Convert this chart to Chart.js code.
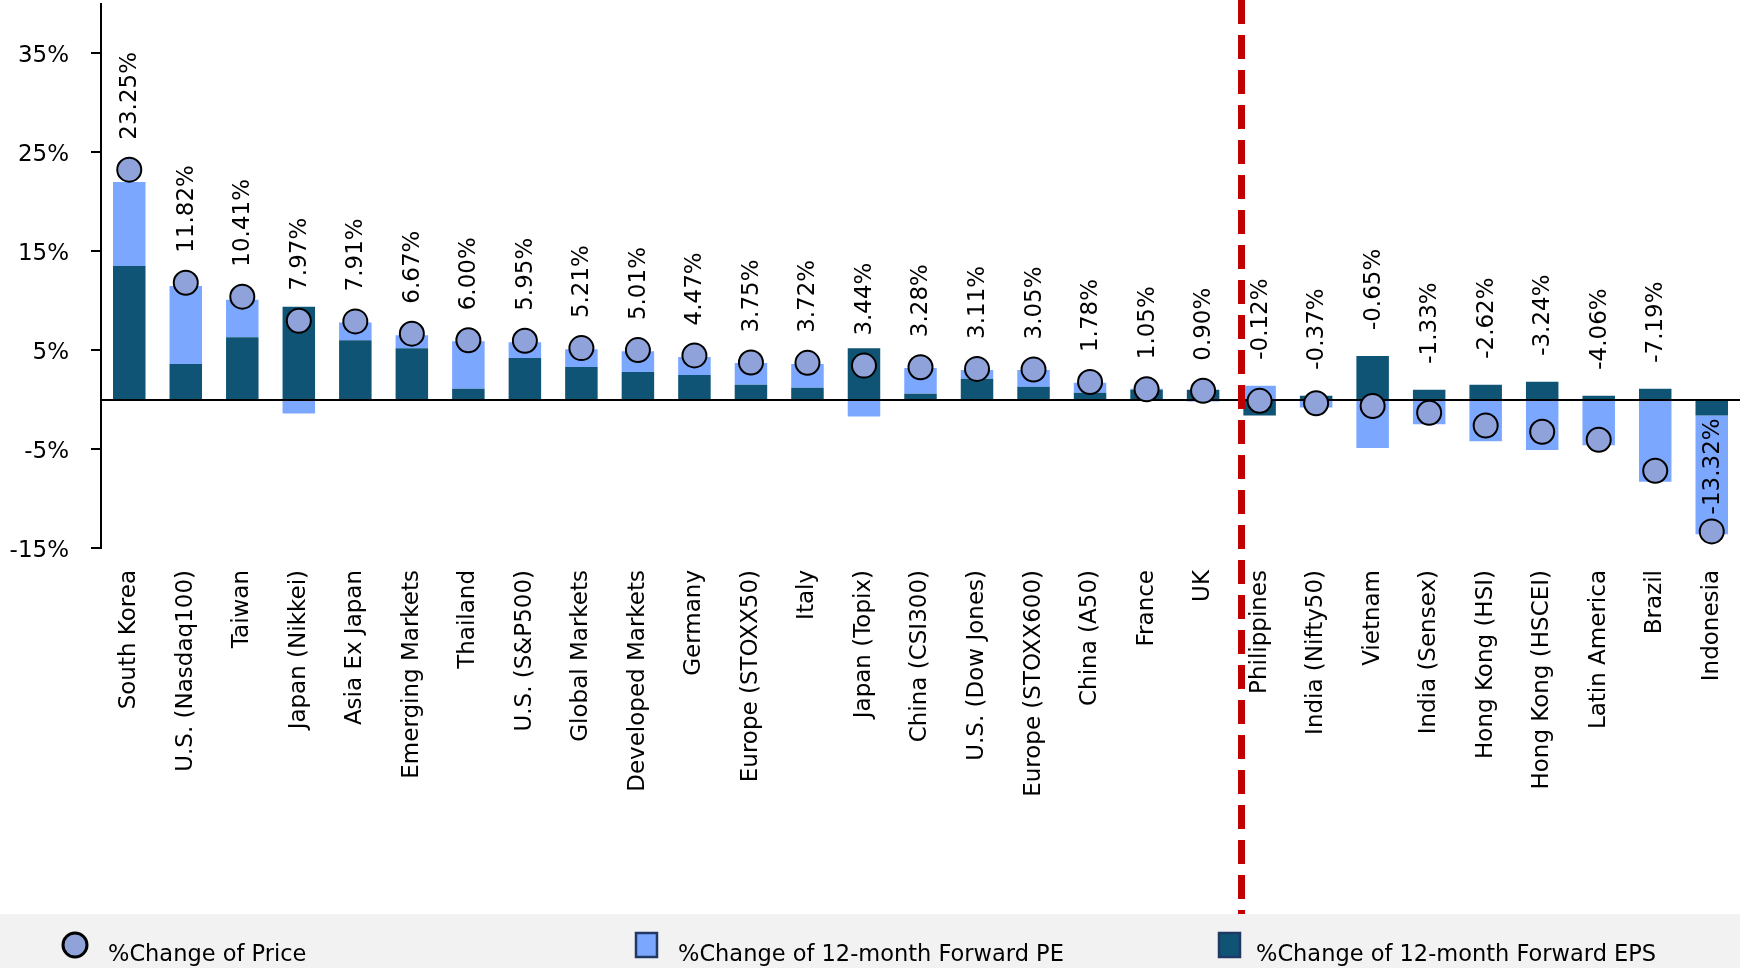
<!DOCTYPE html>
<html>
<head>
<meta charset="utf-8">
<script src="https://cdn.jsdelivr.net/npm/chart.js@4.4.1/dist/chart.umd.min.js"></script>
<style>
  html, body { margin: 0; padding: 0; background: #fff; }
  #wrap { width: 1740px; height: 968px; position: relative; }
</style>
</head>
<body>
<div id="wrap"><canvas id="chart"></canvas></div>
<script>
// Data
const markets = [
  "South Korea", "U.S. (Nasdaq100)", "Taiwan", "Japan (Nikkei)", "Asia Ex Japan",
  "Emerging Markets", "Thailand", "U.S. (S&P500)", "Global Markets", "Developed Markets",
  "Germany", "Europe (STOXX50)", "Italy", "Japan (Topix)", "China (CSI300)",
  "U.S. (Dow Jones)", "Europe (STOXX600)", "China (A50)", "France", "UK",
  "Philippines", "India (Nifty50)", "Vietnam", "India (Sensex)", "Hong Kong (HSI)",
  "Hong Kong (HSCEI)", "Latin America", "Brazil", "Indonesia"
];
const priceChange = [
  23.25, 11.82, 10.41, 7.97, 7.91, 6.67, 6.0, 5.95, 5.21, 5.01,
  4.47, 3.75, 3.72, 3.44, 3.28, 3.11, 3.05, 1.78, 1.05, 0.9,
  -0.12, -0.37, -0.65, -1.33, -2.62, -3.24, -4.06, -7.19, -13.32
];
const epsChange = [
  13.5, 3.6, 6.3, 9.4, 6.0, 5.2, 1.1, 4.2, 3.3, 2.8,
  2.5, 1.5, 1.2, 5.2, 0.6, 2.1, 1.3, 0.7, 1.0, 1.0,
  -1.6, 0.4, 4.4, 1.0, 1.5, 1.8, 0.4, 1.1, -1.6
];
const peChange = [
  8.5, 7.9, 3.8, -1.4, 1.8, 1.3, 4.8, 1.6, 1.8, 2.1,
  1.8, 2.2, 2.4, -1.7, 2.6, 0.9, 1.7, 1.0, 0.1, -0.2,
  1.4, -0.8, -4.9, -2.5, -4.2, -5.1, -4.6, -8.3, -12.0
];
const yTicks = [-15, -5, 5, 15, 25, 35];
const dividerAfter = 19.68; // between UK and Philippines

const FONT = "'DejaVu Sans', sans-serif";
const colors = { eps: "#0F5475", pe: "#7BA7FF", price: "#8FA2D9" };

// Overlay: zero line, value labels, divider, legend
const overlayPlugin = {
  id: "overlay",
  beforeDraw(chart) {
    const { ctx, width, height } = chart;
    ctx.save();
    ctx.fillStyle = "#f2f2f2";
    ctx.fillRect(0, 914, width, height - 914);
    ctx.restore();
  },
  beforeDatasetDraw(chart, args) {
    if (args.index !== 2) return;
    const { ctx, chartArea, scales } = chart;
    const y0 = Math.round(scales.y.getPixelForValue(0));
    ctx.save();
    ctx.strokeStyle = "#000";
    ctx.lineWidth = 2;
    ctx.beginPath();
    ctx.moveTo(chartArea.left, y0);
    ctx.lineTo(chartArea.right, y0);
    ctx.stroke();
    ctx.restore();
  },
  afterDatasetsDraw(chart) {
    const { ctx, scales } = chart;
    ctx.save();
    ctx.fillStyle = "#000";
    ctx.font = "23px " + FONT;
    ctx.textAlign = "left";
    ctx.textBaseline = "middle";
    priceChange.forEach((v, i) => {
      const x = scales.x.getPixelForValue(i);
      let start;
      if (v >= 0) {
        start = scales.y.getPixelForValue(v) - 30;
      } else if (v > -10) {
        const top = Math.max(0, epsChange[i]) + Math.max(0, peChange[i]);
        start = scales.y.getPixelForValue(top) - 26;
      } else {
        start = scales.y.getPixelForValue(v) - 17;
      }
      ctx.save();
      ctx.translate(x + 1, start);
      ctx.rotate(-Math.PI / 2);
      ctx.fillText(v.toFixed(2) + "%", 0, 0);
      ctx.restore();
    });
    ctx.restore();
  },
  afterDraw(chart) {
    const { ctx, scales } = chart;
    const xa = scales.x.getPixelForValue(Math.floor(dividerAfter));
    const xb = scales.x.getPixelForValue(Math.floor(dividerAfter) + 1);
    const xd = xa + (xb - xa) * (dividerAfter - Math.floor(dividerAfter));
    ctx.save();
    ctx.strokeStyle = "#C00000";
    ctx.lineWidth = 7;
    ctx.setLineDash([24, 11]);
    ctx.beginPath();
    ctx.moveTo(xd, 0);
    ctx.lineTo(xd, 914);
    ctx.stroke();
    ctx.restore();

    // legend
    const ds = chart.data.datasets;
    ctx.save();
    ctx.font = "22.5px " + FONT;
    ctx.textBaseline = "middle";
    ctx.textAlign = "left";
    // price
    ctx.beginPath();
    ctx.arc(75, 945, 12, 0, Math.PI * 2);
    ctx.fillStyle = ds[2].pointBackgroundColor;
    ctx.fill();
    ctx.lineWidth = 3;
    ctx.strokeStyle = "#000";
    ctx.stroke();
    ctx.fillStyle = "#000";
    ctx.fillText(ds[2].label, 108, 955);
    // PE
    ctx.fillStyle = ds[1].backgroundColor;
    ctx.fillRect(636, 933, 21, 24);
    ctx.strokeStyle = "#1F3864";
    ctx.lineWidth = 2.5;
    ctx.strokeRect(636, 933, 21, 24);
    ctx.fillStyle = "#000";
    ctx.fillText(ds[1].label, 678, 955);
    // EPS
    ctx.fillStyle = ds[0].backgroundColor;
    ctx.fillRect(1219, 933, 21, 24);
    ctx.strokeStyle = "#1F3864";
    ctx.strokeRect(1219, 933, 21, 24);
    ctx.fillStyle = "#000";
    ctx.fillText(ds[0].label, 1256, 955);
    ctx.restore();
  }
};

const ctx = document.getElementById("chart").getContext("2d");
new Chart(ctx, {
  type: "bar",
  data: {
    labels: markets,
    datasets: [
      {
        type: "bar",
        label: "%Change of 12-month Forward EPS",
        data: epsChange,
        backgroundColor: colors.eps,
        stack: "s",
        order: 1,
        barPercentage: 0.575,
        categoryPercentage: 1
      },
      {
        type: "bar",
        label: "%Change of 12-month Forward PE",
        data: peChange,
        backgroundColor: colors.pe,
        stack: "s",
        order: 1,
        barPercentage: 0.575,
        categoryPercentage: 1
      },
      {
        type: "line",
        label: "%Change of Price",
        data: priceChange,
        showLine: false,
        stack: "p",
        order: 0,
        clip: false,
        pointRadius: 12,
        pointHoverRadius: 12,
        pointBackgroundColor: colors.price,
        pointBorderColor: "#000",
        pointBorderWidth: 2
      }
    ]
  },
  options: {
    responsive: true,
    maintainAspectRatio: false,
    animation: false,
    layout: { autoPadding: false, padding: { top: 4, left: 0, right: 0, bottom: 0 } },
    plugins: {
      legend: { display: false },
      tooltip: { enabled: false }
    },
    scales: {
      x: {
        stacked: true,
        grid: { display: false, drawTicks: false },
        border: { display: false },
        ticks: {
          autoSkip: false,
          maxRotation: 90,
          minRotation: 90,
          padding: 22,
          color: "#000",
          font: { family: FONT, size: 23 }
        },
        afterFit: (s) => {
          s.height = 420;
          s.paddingLeft = 0;
          s.paddingRight = 0;
        }
      },
      y: {
        stacked: true,
        min: -15,
        max: 40,
        afterBuildTicks: (s) => {
          s.ticks = yTicks.map((v) => ({ value: v }));
        },
        afterFit: (s) => {
          s.width = 101;
          s.paddingTop = 0;
          s.paddingBottom = 0;
        },
        grid: {
          drawOnChartArea: false,
          drawTicks: true,
          tickLength: 10,
          color: "#000",
          lineWidth: 2
        },
        border: { display: true, color: "#000", width: 2 },
        ticks: {
          padding: 22,
          labelOffset: 3,
          color: "#000",
          font: { family: FONT, size: 23 },
          callback: (v) => v + "%"
        }
      }
    }
  },
  plugins: [overlayPlugin]
});
</script>
</body>
</html>
